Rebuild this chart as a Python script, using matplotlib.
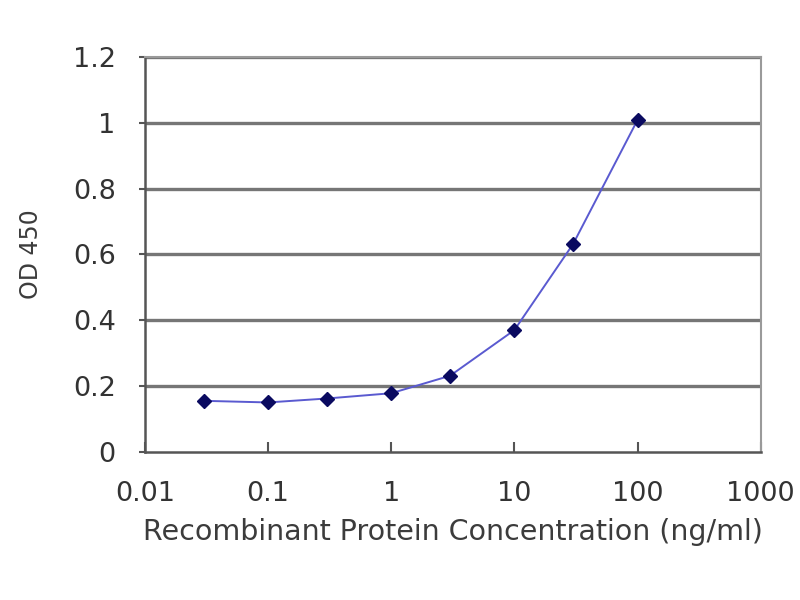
import numpy as np
import matplotlib
matplotlib.use('Agg')
import matplotlib.pyplot as plt

# 浓度 (ng/ml) 与 OD450 读数
conc = [0.03, 0.1, 0.3, 1, 3, 10, 30, 100]
od450 = [0.155, 0.150, 0.162, 0.178, 0.231, 0.370, 0.632, 1.009]

x_ticks = [0.01, 0.1, 1, 10, 100, 1000]
x_tick_labels = ['0.01', '0.1', '1', '10', '100', '1000']
y_ticks = [0, 0.2, 0.4, 0.6, 0.8, 1.0, 1.2]
y_tick_labels = ['0', '0.2', '0.4', '0.6', '0.8', '1', '1.2']

plt.rcParams['font.family'] = ['DejaVu Sans']

fig = plt.figure(figsize=(8, 6), dpi=100)
ax = fig.add_axes([0.181, 0.247, 0.770, 0.658])

# 水平网格线
for y in y_ticks[1:]:
    ax.axhline(y, color='#767676', lw=2.4, zorder=1)

ax.plot(conc, od450, color='#5a5ad0', lw=1.4, zorder=2)
ax.plot(conc, od450, linestyle='none', marker='D', ms=7.5,
        color='#0a0a60', zorder=3)

ax.set_xscale('log')
ax.set_xlim(0.01, 1000)
ax.set_ylim(0, 1.2)
ax.set_xticks(x_ticks)
ax.set_xticklabels(x_tick_labels)
ax.minorticks_off()
ax.set_yticks(y_ticks)
ax.set_yticklabels(y_tick_labels)

for side in ['left', 'bottom']:
    ax.spines[side].set_color('#555555')
    ax.spines[side].set_linewidth(1.8)
for side in ['top', 'right']:
    ax.spines[side].set_color('#9a9a9a')
    ax.spines[side].set_linewidth(1.5)

ax.tick_params(axis='y', direction='out', length=4, width=1.5,
               colors='#555555', labelcolor='#333333', labelsize=19.5, pad=17)
ax.tick_params(axis='x', direction='in', length=7, width=1.5,
               colors='#555555', labelcolor='#333333', labelsize=19.5, pad=21)

ax.set_ylabel('OD 450', fontsize=17, color='#3c3c3c', labelpad=21)
ax.set_xlabel('Recombinant Protein Concentration (ng/ml)', fontsize=20.5,
              color='#3c3c3c', labelpad=8)

fig.savefig('out.png', dpi=100, facecolor='white')
